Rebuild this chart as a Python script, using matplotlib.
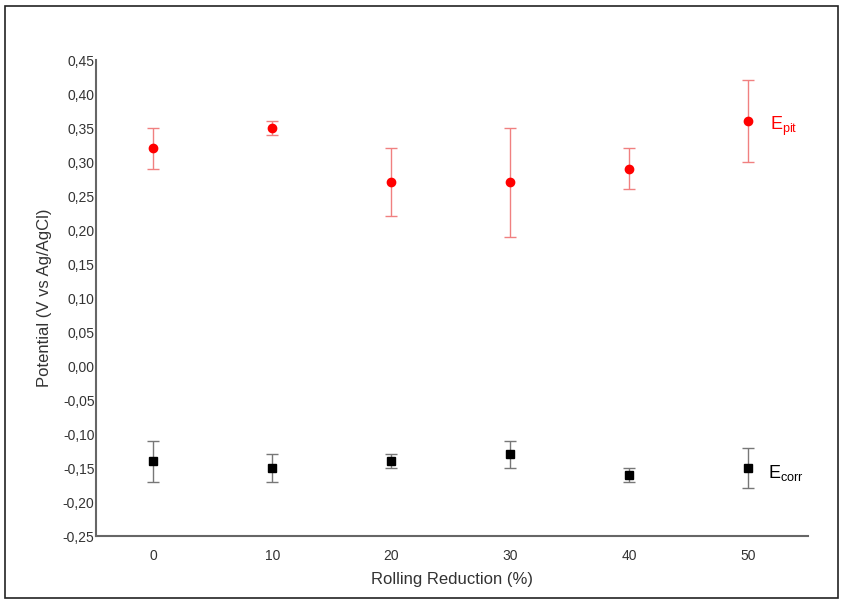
import matplotlib
matplotlib.use("Agg")
import matplotlib.pyplot as plt
from matplotlib.ticker import FuncFormatter
from matplotlib.patches import Rectangle

plt.rcParams["font.family"] = ["Liberation Sans", "DejaVu Sans"]

reduction = [0, 10, 20, 30, 40, 50]
e_pit = [0.32, 0.35, 0.27, 0.27, 0.29, 0.36]
e_pit_err = [0.03, 0.01, 0.05, 0.08, 0.03, 0.06]
e_corr = [-0.14, -0.15, -0.14, -0.13, -0.16, -0.15]
e_corr_err = [0.03, 0.02, 0.01, 0.02, 0.01, 0.03]

fig = plt.figure(figsize=(8.43, 6.04), dpi=100)
ax = fig.add_axes([96/843, 1 - 536/604, 712/843, 476/604])

ax.errorbar(reduction, e_pit, yerr=e_pit_err, fmt="o", color="red", ms=6,
            ecolor="#f08080", elinewidth=1, capsize=4, capthick=1)
ax.errorbar(reduction, e_corr, yerr=e_corr_err, fmt="s", color="black", ms=6,
            ecolor="#777777", elinewidth=1, capsize=4, capthick=1)

ax.text(51.8, 0.353, "E$_{\\mathregular{pit}}$", color="red", fontsize=13, va="center")
ax.text(51.6, -0.158, "E$_{\\mathregular{corr}}$", color="black", fontsize=13, va="center")

ax.set_xlim(-4.8, 55)
ax.set_ylim(-0.25, 0.45)
ax.set_xticks(reduction)
ax.set_yticks([i / 100 for i in range(-25, 46, 5)])
ax.yaxis.set_major_formatter(FuncFormatter(lambda v, p: f"{v:.2f}".replace(".", ",")))
ax.tick_params(length=0, labelsize=10, colors="#333333")
ax.tick_params(axis="y", pad=1)
ax.tick_params(axis="x", pad=9)
for s in ["top", "right"]:
    ax.spines[s].set_visible(False)
for s in ["left", "bottom"]:
    ax.spines[s].set_color("#666666")
    ax.spines[s].set_linewidth(1.5)

ax.set_xlabel("Rolling Reduction (%)", fontsize=12, color="#333333", labelpad=7)
ax.set_ylabel("Potential (V vs Ag/AgCl)", fontsize=12, color="#333333", labelpad=8)

fig.patches.append(Rectangle((5/843, 6/604), 833/843, 592/604, transform=fig.transFigure,
                             fill=False, edgecolor="#222222", linewidth=1.2))

fig.savefig("out.png", dpi=100)
